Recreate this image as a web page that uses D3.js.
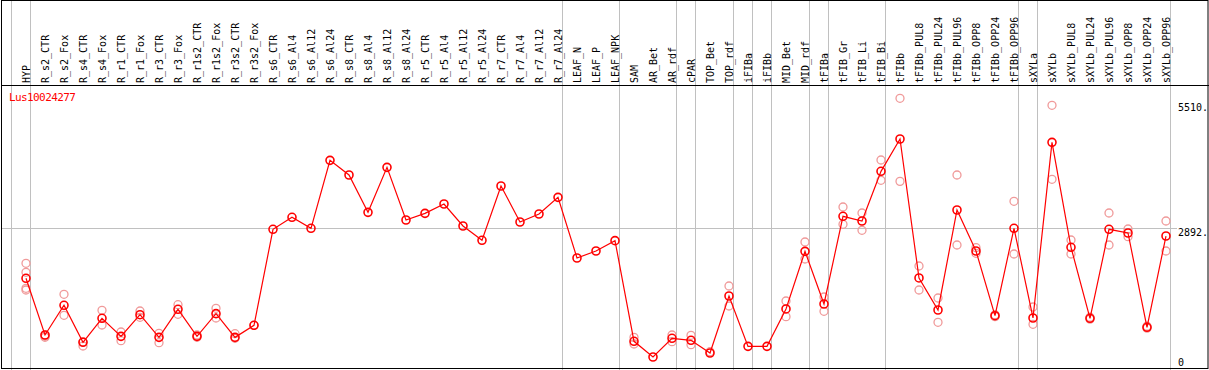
<!DOCTYPE html>
<html lang="en">
<head>
    <meta charset="UTF-8">
    <title>Lus10024277</title>
    <script type="text/javascript" src="https://cdn.jsdelivr.net/npm/d3@7"></script>
    <style type="text/css">
        body { margin: 0; background: white; }
        text { font-family: "DejaVu Sans Mono", monospace; font-size: 10px; }
    </style>
</head>
<body>
    <script type="text/javascript">
        var geneName = "Lus10024277";

        var samples = ["HYP", "R_s2_CTR", "R_s2_Fox", "R_s4_CTR", "R_s4_Fox", "R_r1_CTR", "R_r1_Fox",
            "R_r3_CTR", "R_r3_Fox", "R_r1s2_CTR", "R_r1s2_Fox", "R_r3s2_CTR", "R_r3s2_Fox",
            "R_s6_CTR", "R_s6_Al4", "R_s6_Al12", "R_s6_Al24", "R_s8_CTR", "R_s8_Al4", "R_s8_Al12", "R_s8_Al24",
            "R_r5_CTR", "R_r5_Al4", "R_r5_Al12", "R_r5_Al24", "R_r7_CTR", "R_r7_Al4", "R_r7_Al12", "R_r7_Al24",
            "LEAF_N", "LEAF_P", "LEAF_NPK", "SAM", "AR_Bet", "AR_rdf", "cPAR", "TOP_Bet", "TOP_rdf",
            "iFIBa", "iFIBb", "MID_Bet", "MID_rdf", "tFIBa", "tFIB_Gr", "tFIB_Li", "tFIB_Bi", "tFIBb",
            "tFIBb_PUL8", "tFIBb_PUL24", "tFIBb_PUL96", "tFIBb_OPP8", "tFIBb_OPP24", "tFIBb_OPP96",
            "sXYLa", "sXYLb", "sXYLb_PUL8", "sXYLb_PUL24", "sXYLb_PUL96", "sXYLb_OPP8", "sXYLb_OPP24", "sXYLb_OPP96"];

        var means = [1851, 668, 1288, 515, 1016, 640, 1092, 619, 1204, 640, 1113, 619, 870,
            2874, 3124, 2895, 4313, 4007, 3228, 4167, 3068,
            3207, 3402, 2943, 2644, 3778, 3026, 3193, 3541,
            2275, 2421, 2637, 536, 209, 599, 557, 292, 1482,
            431, 431, 1211, 2414, 1315, 3145, 3047, 4084, 4759,
            1858, 1190, 3277, 2421, 1071, 2895,
            1023, 4689, 2498, 1016, 2874, 2797, 829, 2734];

        var replicates = [[2164, 1977, 1643, 1607], [668, 640, 620], [1517, 1079], [528, 438], [1183, 877],
            [730, 549], [1169, 1037], [703, 507], [1300, 1100], [668, 620], [1225, 1023], [695, 599], [870],
            [], [], [], [], [], [], [], [],
            [], [], [], [], [], [], [], [],
            [], [], [], [619, 480], [], [668, 528], [661, 466], [320], [1691, 1273],
            [], [], [1377, 1051], [2609, 2254], [1461, 1162], [3339, 2978], [3214, 2853], [4320, 3896], [5608, 3875],
            [2108, 1607], [1440, 933], [4007, 2546], [2491, 2373], [1090, 1050], [3458, 2358],
            [1252, 891], [5462, 3917], [2651, 2358], [1040, 1000], [3214, 2546], [2880, 2720], [850, 810], [3047, 2421]];

        // index of the last sample in each group, a grey rule is drawn after it
        var groupEnds = [0, 28, 31, 34, 35, 37, 38, 39, 41, 42, 45, 52, 53, 60];
        var yTicks = [0, 2892, 5510];
        var gridTicks = [2892];

        var width = 1209;
        var height = 370;
        var headerBottom = 85;
        var step = 19;

        var svg = d3.select("body").append("svg")
            .attr("width", width)
            .attr("height", height);

        var x = d3.scaleBand()
            .domain(samples)
            .range([16.5, 16.5 + samples.length * step]);
        var cx = function(name) { return x(name) + x.bandwidth() / 2; };

        var y = d3.scaleLinear()
            .domain([0, 5510])
            .range([367, 103]);

        // grey group rules
        var rulePos = [x(samples[0]) - 5].concat(groupEnds.map(function(i) { return x(samples[i]) + step - 5; }));
        svg.selectAll("line.rule")
            .data(rulePos)
            .enter().append("line")
            .attr("class", "rule")
            .attr("x1", function(d) { return d; })
            .attr("x2", function(d) { return d; })
            .attr("y1", 0)
            .attr("y2", height)
            .attr("stroke", "#c0c0c0");

        // horizontal grid
        svg.selectAll("line.grid")
            .data(gridTicks)
            .enter().append("line")
            .attr("class", "grid")
            .attr("x1", 1)
            .attr("x2", 1177)
            .attr("y1", function(d) { return Math.round(y(d)) + 0.5; })
            .attr("y2", function(d) { return Math.round(y(d)) + 0.5; })
            .attr("stroke", "#c0c0c0");

        // frame and header line
        svg.append("rect")
            .attr("x", 1.5).attr("y", 0.5)
            .attr("width", width - 2.5).attr("height", height - 2)
            .attr("fill", "none").attr("stroke", "black");
        svg.append("line")
            .attr("x1", 1).attr("x2", width)
            .attr("y1", headerBottom + 0.5).attr("y2", headerBottom + 0.5)
            .attr("stroke", "black");

        // sample labels
        svg.selectAll("text.sample")
            .data(samples)
            .enter().append("text")
            .attr("class", "sample")
            .attr("transform", function(d) { return "translate(" + cx(d) + "," + (headerBottom - 2) + ") rotate(-90)"; })
            .attr("dy", "0.35em")
            .text(function(d) { return d; });

        // y tick labels
        svg.selectAll("text.ytick")
            .data(yTicks)
            .enter().append("text")
            .attr("class", "ytick")
            .attr("x", 1178)
            .attr("y", function(d) { return d === 0 ? y(d) - 1 : y(d) + 8; })
            .text(function(d) { return d === 0 ? "0" : d + "."; });

        svg.append("text")
            .attr("x", 9)
            .attr("y", 101)
            .attr("fill", "red")
            .style("font-size", "11px")
            .attr("letter-spacing", "-0.6")
            .text(geneName);

        // replicate points
        var repData = [];
        samples.forEach(function(s, i) {
            replicates[i].forEach(function(v) { repData.push({ s: s, v: v }); });
        });
        svg.selectAll("circle.rep")
            .data(repData)
            .enter().append("circle")
            .attr("class", "rep")
            .attr("cx", function(d) { return cx(d.s); })
            .attr("cy", function(d) { return y(d.v); })
            .attr("r", 4)
            .attr("fill", "none")
            .attr("stroke", "#f09a9a")
            .attr("stroke-width", 1.3);

        var line = d3.line()
            .x(function(d, i) { return cx(samples[i]); })
            .y(function(d) { return y(d); });
        svg.append("path")
            .datum(means)
            .attr("d", line)
            .attr("fill", "none")
            .attr("stroke", "red")
            .attr("stroke-width", 1.2);

        svg.selectAll("circle.mean")
            .data(means)
            .enter().append("circle")
            .attr("class", "mean")
            .attr("cx", function(d, i) { return cx(samples[i]); })
            .attr("cy", function(d) { return y(d); })
            .attr("r", 4)
            .attr("fill", "none")
            .attr("stroke", "red")
            .attr("stroke-width", 1.6);
    </script>
</body>
</html>
